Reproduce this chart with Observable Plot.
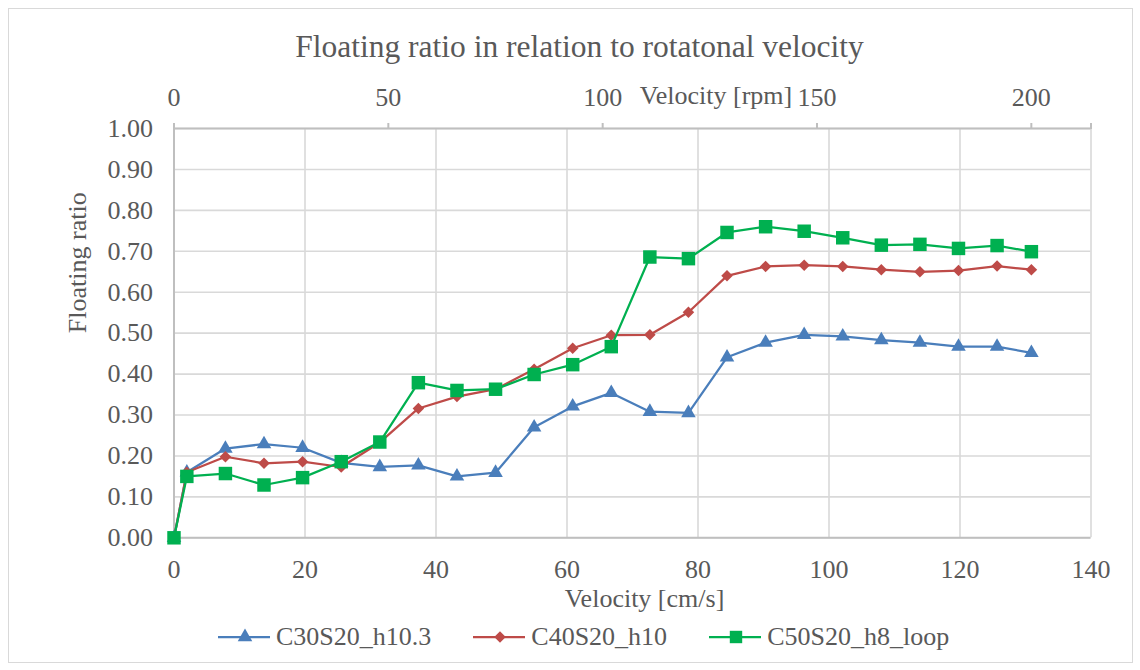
<!DOCTYPE html>
<html>
<head>
<meta charset="utf-8">
<script src="https://cdn.jsdelivr.net/npm/d3@7"></script>
<script src="https://cdn.jsdelivr.net/npm/@observablehq/plot@0.6"></script>
<style>
  html, body { margin: 0; padding: 0; background: #ffffff; }
  #wrap { position: relative; width: 1140px; height: 670px; overflow: hidden; font-family: "Liberation Serif", "Times New Roman", serif; color: #595959; }
  #frame { position: absolute; left: 8px; top: 8px; width: 1125px; height: 655px; border: 1px solid #d9d9d9; box-sizing: border-box; }
  #title { position: absolute; left: 19px; top: 27px; width: 1121px; text-align: center; font-size: 31.5px; line-height: 40px; white-space: nowrap; }
  #chart { position: absolute; left: 0; top: 70px; }
  #legend { position: absolute; left: 218px; top: 621px; display: flex; align-items: center; gap: 42px; font-size: 26px; line-height: 32px; white-space: nowrap; }
  .item { display: flex; align-items: center; gap: 4px; }
  .item svg { display: block; }
</style>
</head>
<body>
<div id="wrap">
  <div id="frame"></div>
  <div id="title">Floating ratio in relation to rotatonal velocity</div>
  <div id="chart"></div>
  <div id="legend"></div>
</div>
<script>
// ---- data ----
const velocity = [0, 1.96, 7.85, 13.74, 19.63, 25.53, 31.42, 37.31, 43.2, 49.09, 54.98, 60.87, 66.76, 72.65, 78.54, 84.43, 90.32, 96.21, 102.1, 107.99, 113.88, 119.77, 125.66, 130.9];
const c30s20 = [0, 0.16, 0.218, 0.229, 0.22, 0.183, 0.173, 0.177, 0.15, 0.159, 0.27, 0.321, 0.354, 0.308, 0.305, 0.441, 0.477, 0.496, 0.492, 0.483, 0.477, 0.467, 0.467, 0.452];
const c40s20 = [0, 0.16, 0.198, 0.182, 0.186, 0.173, 0.233, 0.316, 0.345, 0.363, 0.412, 0.463, 0.495, 0.496, 0.551, 0.64, 0.663, 0.666, 0.663, 0.655, 0.65, 0.653, 0.664, 0.655];
const c50s20 = [0, 0.15, 0.157, 0.129, 0.147, 0.186, 0.234, 0.379, 0.36, 0.363, 0.399, 0.423, 0.467, 0.686, 0.682, 0.746, 0.76, 0.749, 0.733, 0.715, 0.717, 0.707, 0.714, 0.699];
const seriesNames = ["C30S20_h10.3", "C40S20_h10", "C50S20_h8_loop"];
const seriesColors = ["#4A7EBB", "#BE4B48", "#00B050"];
const seriesSymbols = ["triangle", "diamond2", "square"];
const xTicks = [0, 20, 40, 60, 80, 100, 120, 140];
const yTicks = [0, 0.1, 0.2, 0.3, 0.4, 0.5, 0.6, 0.7, 0.8, 0.9, 1.0];
const rpmTicks = [0, 50, 100, 150, 200];
const rpmPerCms = 1.528;

// ---- build table ----
const seriesValues = [c30s20, c40s20, c50s20];
const rows = [];
seriesValues.forEach((vals, s) => {
  vals.forEach((v, i) => rows.push({series: seriesNames[s], x: velocity[i], y: v}));
});

const symR = {triangle: 5.4, diamond2: 5.2, square: 7.6};
const seriesMarks = [];
seriesNames.forEach((name, s) => {
  const d = rows.filter(r => r.series === name);
  seriesMarks.push(Plot.line(d, {x: "x", y: "y", stroke: seriesColors[s], strokeWidth: 2.25}));
  seriesMarks.push(Plot.dot(d, {x: "x", y: "y", symbol: () => seriesSymbols[s], r: symR[seriesSymbols[s]], fill: seriesColors[s], stroke: "none"}));
});

const topTicks = rpmTicks.map(r => r / rpmPerCms).concat([140]);

const chart = Plot.plot({
  width: 1140,
  height: 545,
  marginLeft: 173.5,
  marginRight: 49.5,
  marginTop: 58,
  marginBottom: 77.7,
  x: {domain: [0, 140]},
  y: {domain: [0, 1]},
  symbol: {type: "identity"},
  style: {fontFamily: "'Liberation Serif', 'Times New Roman', serif", fontSize: "26px", color: "#595959", background: "transparent", overflow: "visible"},
  marks: [
    Plot.gridX(xTicks, {stroke: "#d9d9d9", strokeOpacity: 1, strokeWidth: 1.6}),
    Plot.gridY(yTicks, {stroke: "#d9d9d9", strokeOpacity: 1, strokeWidth: 1.6}),
    Plot.ruleX([0], {stroke: "#bfbfbf", strokeWidth: 2}),
    Plot.ruleY([0], {stroke: "#bfbfbf", strokeWidth: 2}),
    Plot.ruleY([1], {stroke: "#bfbfbf", strokeWidth: 2}),
    Plot.axisX(xTicks, {anchor: "bottom", tickSize: 0, tickPadding: 22, label: null, fill: "#595959"}),
    Plot.axisY(yTicks, {anchor: "left", tickSize: 0, tickPadding: 21, tickFormat: d => d.toFixed(2), label: null, fill: "#595959"}),
    Plot.axisX(topTicks, {anchor: "top", tickSize: 6, tickPadding: 17, stroke: "#bfbfbf", strokeWidth: 2, tickFormat: d => (d === 140 ? "" : String(Math.round(d * rpmPerCms))), label: null, fill: "#595959"}),
    Plot.text(["Velocity [rpm]"], {frameAnchor: "top", lineAnchor: "middle", dx: 83.5, dy: -33, fill: "#595959", fontSize: 26}),
    Plot.text(["Velocity [cm/s]"], {frameAnchor: "bottom", lineAnchor: "middle", dx: 12, dy: 60.7, fill: "#595959", fontSize: 26}),
    Plot.text(["Floating ratio"], {frameAnchor: "left", dx: -96, rotate: -90, fill: "#595959", fontSize: 26}),
    ...seriesMarks
  ]
});
document.getElementById("chart").appendChild(chart);

// ---- legend ----
const legend = document.getElementById("legend");
const symSize = {triangle: Math.PI * 5.4 * 5.4, diamond2: Math.PI * 5.2 * 5.2, square: Math.PI * 7.0 * 7.0};
const d3sym = {triangle: d3.symbolTriangle, diamond2: d3.symbolDiamond2, square: d3.symbolSquare};
seriesNames.forEach((name, s) => {
  const item = document.createElement("div");
  item.className = "item";
  const svg = d3.create("svg").attr("width", 54).attr("height", 20);
  svg.append("line").attr("x1", 0).attr("x2", 52).attr("y1", 10).attr("y2", 10)
    .attr("stroke", seriesColors[s]).attr("stroke-width", 2.25);
  svg.append("path").attr("transform", "translate(27,10)")
    .attr("d", d3.symbol().type(d3sym[seriesSymbols[s]]).size(symSize[seriesSymbols[s]])())
    .attr("fill", seriesColors[s]);
  item.appendChild(svg.node());
  const span = document.createElement("span");
  span.textContent = name;
  item.appendChild(span);
  legend.appendChild(item);
});
</script>
</body>
</html>
